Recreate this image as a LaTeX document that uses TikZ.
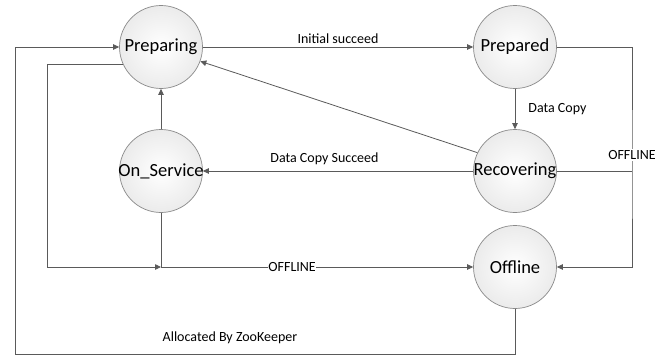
\documentclass[tikz,border=0pt]{standalone}
\usepackage{fontspec}
\setmainfont{Carlito}
\usetikzlibrary{arrows.meta, positioning, calc}
\definecolor{sline}{HTML}{5A5A5A}
\definecolor{sedge}{HTML}{8A8A8A}
\definecolor{sfill}{HTML}{EBEBEB}
\newcommand{\stname}[1]{\makebox[0pt][c]{#1}}
\tikzset{
  >={Triangle[length=6pt,width=5.5pt]},
  state/.style={
    circle, draw=sedge, line width=0.7pt, inner sep=0pt,
    minimum size=83pt, inner color=white, outer color=sfill,
    font=\fontsize{18.5}{22}\selectfont
  },
  arr/.style={->, line width=0.8pt, draw=sline, color=sline},
  link/.style={line width=0.8pt, draw=sline},
  lab/.style={font=\fontsize{14}{16}\selectfont, text=black, inner sep=1pt},
  onlab/.style={lab, fill=white, inner xsep=0.5pt}
}
\begin{document}
\begin{tikzpicture}[x=1pt, y=-1pt]
  \useasboundingbox (0,0) rectangle (665,356);
  % states
  \node[state] (prep)  at (161,47)  {\stname{Preparing}};
  \node[state] (prepd) at (515,47)  {\stname{Prepared}};
  \node[state] (onsvc) at (161,171) {\stname{On\_Service}};
  \node[state] (recov) at (515,171) {\stname{Recovering}};
  \node[state] (offl)  at (515,267) {\stname{Offline}};
  % bends of the side lines
  \coordinate (junc) at (onsvc.south |- offl.west);
  \coordinate (lin)  at (47,0);
  \coordinate (lout) at (15,354);
  \coordinate (rgt)  at (632,171);
  % transitions
  \draw[arr] (prep.east) -- node[lab,above=2pt] {Initial succeed} (prepd.west);
  \draw[arr] (prepd.south) -- node[lab,right=12pt] {Data Copy} (recov.north);
  \draw[arr] (recov.154) -- (prep.-20);
  \draw[arr] (recov.west) -- node[lab,above=5pt,pos=0.55] {Data Copy Succeed} (onsvc.east);
  \draw[arr] (onsvc.north) -- (prep.south);
  \draw[arr] (onsvc.south) |- node[onlab,pos=0.71] {OFFLINE} (offl.west);
  \draw[arr] (prep.204) -| (lin |- junc) -- (junc);
  \draw[arr] (prepd.east) -| (rgt) |- (offl.east);
  \draw[link] (recov.east) -- (rgt);
  \node[onlab] at (632,155) {OFFLINE};
  \draw[arr] (offl.south) |- (lout) |- (prep.west);
  \node[lab] at (230,338) {Allocated By ZooKeeper};
\end{tikzpicture}
\end{document}
